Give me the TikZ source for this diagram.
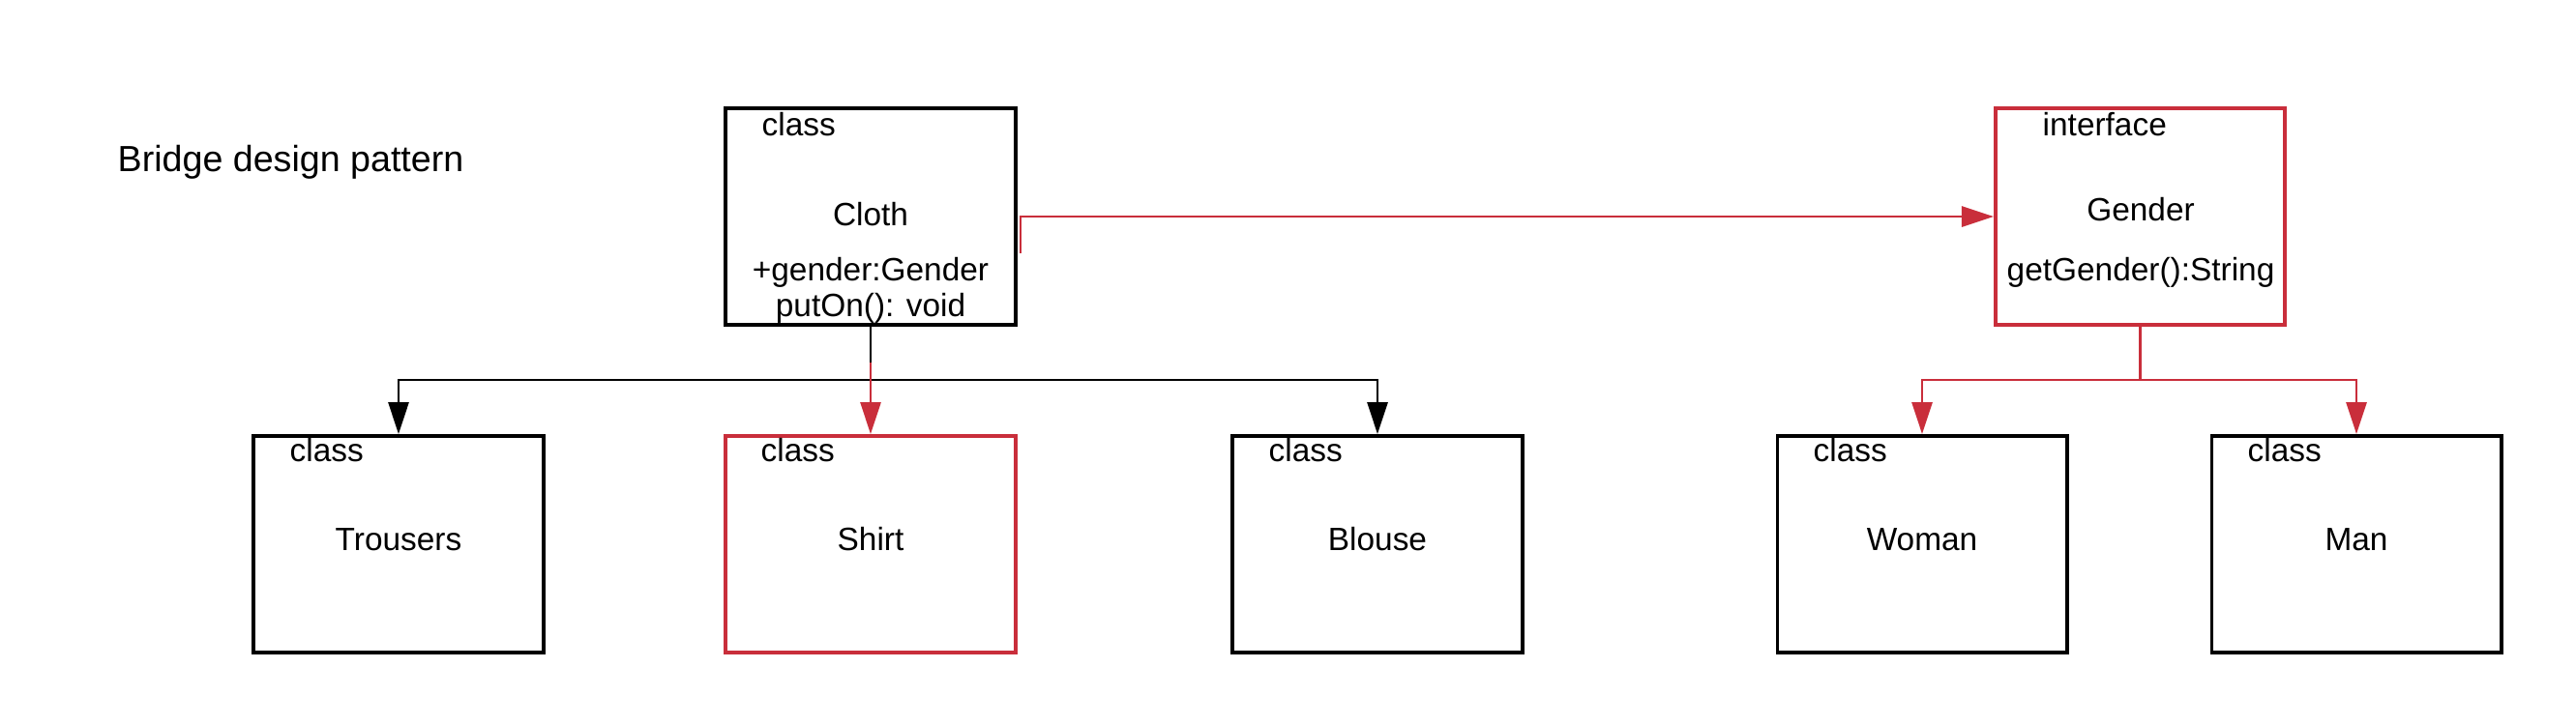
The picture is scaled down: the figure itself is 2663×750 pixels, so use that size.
\documentclass[tikz,border=0pt]{standalone}
\usepackage{fontspec}
\setmainfont{Liberation Sans}
\usepackage{xcolor}
\usepackage{tikz}
\usetikzlibrary{arrows.meta}
\usetikzlibrary{positioning}
\definecolor{bridgered}{HTML}{C92E3B}

\begin{document}
\begin{tikzpicture}[
  x=0.01cm, y=-0.01cm,
  every node/.style={font=\fontsize{9.5}{11.4}\selectfont},
  classbox/.style={draw, line width=1.1pt, minimum width=2.99cm, minimum height=2.24cm, inner sep=0pt},
  redbox/.style={classbox, draw=bridgered},
  kind/.style={anchor=base west, inner sep=0pt},
  cname/.style={anchor=base, inner sep=0pt},
  link/.style={line width=0.8pt},
  redlink/.style={link, draw=bridgered},
  headed/.style={-{Triangle[length=3.3mm,width=2.1mm]}}
]
\useasboundingbox (0,0) rectangle (2663,750);

\node[anchor=base west, inner sep=0pt, font=\fontsize{10.7}{12.8}\selectfont] (title) at (121,177) {Bridge design pattern};

\node[classbox] (cloth) at (900,224) {};
\node[kind] (clothkind) at (787,140) {class};
\node[cname] (clothname) at (900,233) {Cloth};
\node[cname] (clothfield) at (900,290) {+gender:Gender};
\node[cname] (clothop) at (900,327) {putOn(): void};

\node[redbox] (gender) at (2212.5,224) {};
\node[kind] (genderkind) at (2111,140) {interface};
\node[cname] (gendername) at (2213,228) {Gender};
\node[cname] (genderop) at (2213,290) {getGender():String};

\node[classbox] (trousers) at (412,563) {};
\node[kind] (trouserskind) at (299,477) {class};
\node[cname] (trousersname) at (412,569) {Trousers};

\node[redbox] (shirt) at (900,563) {};
\node[kind] (shirtkind) at (786,477) {class};
\node[cname] (shirtname) at (900,569) {Shirt};

\node[classbox] (blouse) at (1424,563) {};
\node[kind] (blousekind) at (1311,477) {class};
\node[cname] (blousename) at (1424,569) {Blouse};

\node[classbox] (woman) at (1987,563) {};
\node[kind] (womankind) at (1874,477) {class};
\node[cname] (womanname) at (1987,569) {Woman};

\node[classbox] (man) at (2436,563) {};
\node[kind] (mankind) at (2323,477) {class};
\node[cname] (manname) at (2436,569) {Man};

\coordinate (clothport) at (1055,262);
\draw[redlink, headed] (clothport) |- (gender.west);

\coordinate (clothfork) at (900,393);
\coordinate (clothstub) at (900,375);
\draw[link] (cloth.south) -- (clothfork);
\draw[link, headed] (clothfork) -| (trousers.north);
\draw[link, headed] (clothfork) -| (blouse.north);
\draw[redlink, headed] (cloth.south) -- (shirt.north);
\draw[link] (cloth.south) -- (clothstub);

\coordinate (genderfork) at (2212.5,393);
\draw[redlink] (gender.south) -- (genderfork);
\draw[redlink, headed] (genderfork) -| (woman.north);
\draw[redlink, headed] (genderfork) -| (man.north);
\end{tikzpicture}
\end{document}
